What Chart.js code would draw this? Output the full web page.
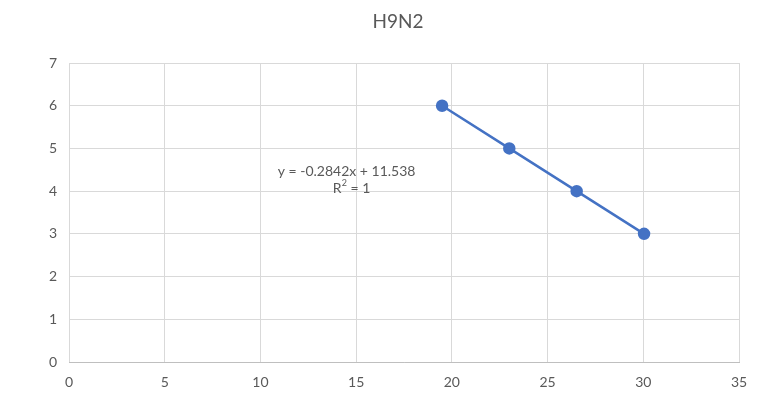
<!DOCTYPE html>
<html>
<head>
<meta charset="utf-8">
<script src="https://cdn.jsdelivr.net/npm/chart.js@4"></script>
<style>
  html, body { margin: 0; padding: 0; background: #fff; }
  #wrap { width: 766px; height: 408px; }
</style>
</head>
<body>
<div id="wrap"><canvas id="chart"></canvas></div>
<script>
const chartTitle = "H9N2";
const xValues = [19.49, 23.0, 26.52, 30.04];
const yValues = [6, 5, 4, 3];
const xTicks = [0, 5, 10, 15, 20, 25, 30, 35];
const yTicks = [0, 1, 2, 3, 4, 5, 6, 7];
const trendEquation = "y = -0.2842x + 11.538";
const trendR2 = "1";
const labelAt = { x: 14.5, y: 4.47 };

const textColor = "#595959";
const lineColor = "#4472C4";
const font = "Lato";

// title and trendline label, placed relative to the chart area / scales
const extraText = {
  id: "extraText",
  afterDatasetsDraw(chart) {
    const { ctx, scales, chartArea } = chart;
    ctx.save();
    ctx.fillStyle = textColor;
    ctx.textBaseline = "middle";
    ctx.textAlign = "center";
    ctx.font = "19px " + font;
    ctx.fillText(chartTitle, (chartArea.left + chartArea.right) / 2 - 6, 22);

    const px = scales.x.getPixelForValue(labelAt.x);
    const py = scales.y.getPixelForValue(labelAt.y);
    ctx.font = "14px " + font;
    ctx.fillText(trendEquation, px, py);
    // R² line with superscript
    const a = "R", b = "2", c = " = " + trendR2;
    const wa = ctx.measureText(a).width, wc = ctx.measureText(c).width;
    ctx.font = "9px " + font;
    const wb = ctx.measureText(b).width;
    let sx = px + 5 - (wa + wb + wc) / 2;
    const sy = py + 17;
    ctx.textAlign = "left";
    ctx.font = "14px " + font;
    ctx.fillText(a, sx, sy);
    ctx.font = "9px " + font;
    ctx.fillText(b, sx + wa, sy - 5);
    ctx.font = "14px " + font;
    ctx.fillText(c, sx + wa + wb, sy);
    ctx.restore();
  }
};

new Chart(document.getElementById("chart"), {
  type: "scatter",
  data: {
    datasets: [{
      data: xValues.map((x, i) => ({ x, y: yValues[i] })),
      showLine: true,
      borderColor: lineColor,
      backgroundColor: lineColor,
      borderWidth: 2.5,
      pointRadius: 5,
      pointHoverRadius: 5
    }]
  },
  options: {
    responsive: true,
    maintainAspectRatio: false,
    animation: false,
    layout: { padding: { left: 0, right: 27, top: 63, bottom: 0 } },
    plugins: {
      legend: { display: false },
      tooltip: { enabled: false },
      title: { display: false }
    },
    scales: {
      x: {
        type: "linear",
        min: xTicks[0],
        max: xTicks[xTicks.length - 1],
        afterBuildTicks(s) { s.ticks = xTicks.map(v => ({ value: v })); },
        afterFit(s) { s.height = 46; },
        grid: { color: "#D9D9D9", drawTicks: false },
        border: { color: "#BFBFBF" },
        ticks: { color: textColor, font: { family: font, size: 14 }, padding: 12 }
      },
      y: {
        type: "linear",
        min: yTicks[0],
        max: yTicks[yTicks.length - 1],
        afterBuildTicks(s) { s.ticks = yTicks.map(v => ({ value: v })); },
        afterFit(s) { s.width = 69; },
        grid: { color: "#D9D9D9", drawTicks: false },
        border: { display: false },
        ticks: { color: textColor, font: { family: font, size: 14 }, padding: 12 }
      }
    }
  },
  plugins: [extraText]
});
</script>
</body>
</html>
